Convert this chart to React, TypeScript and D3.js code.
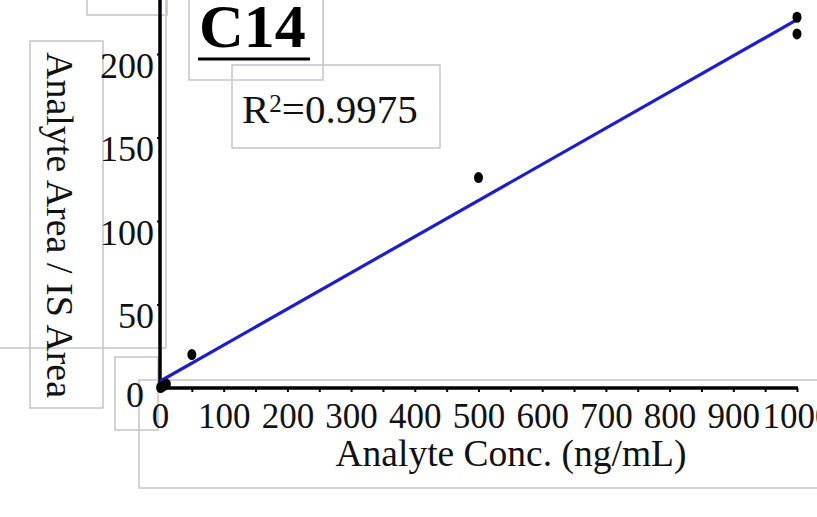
import React, { useEffect, useRef } from "react";
import * as d3 from "d3";

const concs = [1, 5, 10, 50, 500, 1000, 1000];
const ratios = [0.3, 1.2, 2.3, 20, 126, 222, 212];
const xTicks = [0, 100, 200, 300, 400, 500, 600, 700, 800, 900, 1000];
const yTicks = [0, 50, 100, 150, 200];
const title = "C14";
const rSquared = "0.9975";
const xLabel = "Analyte Conc. (ng/mL)";
const yLabel = "Analyte Area / IS Area";

// leftover text boxes from the source document
const boxes = [
  [87, -5, 80, 20],
  [-5, -5, 171, 353],
  [30, 41, 73, 367],
  [115, 357, 43, 73],
  [139, 380, 690, 108],
  [189, -5, 134, 85],
  [232, 65, 208, 83],
  [322, 15, 500, 0],
];

const App = () => {
  const ref = useRef<SVGSVGElement>(null);

  useEffect(() => {
    const svg = d3.select(ref.current);
    svg.selectAll("*").remove();
    const font = "'Liberation Serif', 'Times New Roman', serif";

    const x = d3.scaleLinear().domain([0, 1000]).range([160, 797]);
    const y = d3.scaleLinear().domain([0, 200]).range([388, 54]);

    // gray boxes
    svg
      .append("g")
      .selectAll("rect")
      .data(boxes)
      .enter()
      .append("rect")
      .attr("x", (d) => d[0])
      .attr("y", (d) => d[1])
      .attr("width", (d) => d[2])
      .attr("height", (d) => d[3])
      .attr("fill", "none")
      .attr("stroke", "#c4c4cc")
      .attr("stroke-width", 1.5);

    // x axis
    const xAxis = svg
      .append("g")
      .attr("transform", "translate(0,388)")
      .call(
        d3
          .axisBottom(x)
          .tickValues(d3.range(0, 1001, 50))
          .tickSize(4)
          .tickSizeOuter(0)
          .tickFormat((d) => (xTicks.includes(+d) ? String(d) : ""))
      );
    xAxis.select(".domain").remove();
    xAxis.selectAll(".tick line").attr("stroke", "#000").attr("stroke-width", 2);
    xAxis
      .selectAll(".tick text")
      .attr("font-family", font)
      .attr("font-size", 35)
      .attr("fill", "#111")
      .attr("y", 15);

    // y axis
    const yAxis = svg
      .append("g")
      .attr("transform", "translate(160,0)")
      .call(d3.axisLeft(y).tickValues(yTicks).tickSize(3).tickSizeOuter(0));
    yAxis.select(".domain").remove();
    yAxis.selectAll(".tick line").attr("stroke", "#000").attr("stroke-width", 2);
    yAxis
      .selectAll(".tick text")
      .attr("font-family", font)
      .attr("font-size", 36)
      .attr("fill", "#111")
      .attr("x", -6)
      .attr("dy", "0.64em");
    yAxis
      .selectAll(".tick")
      .filter((d) => d === 0)
      .select("text")
      .attr("x", -16)
      .attr("dy", "0.5em");

    // axis lines
    svg
      .append("line")
      .attr("x1", 160)
      .attr("x2", 160)
      .attr("y1", 0)
      .attr("y2", 390)
      .attr("stroke", "#000")
      .attr("stroke-width", 3.5);
    svg
      .append("line")
      .attr("x1", 158)
      .attr("x2", 798)
      .attr("y1", 388)
      .attr("y2", 388)
      .attr("stroke", "#000")
      .attr("stroke-width", 3.5);

    // least squares fit
    const mx = d3.mean(concs) as number;
    const my = d3.mean(ratios) as number;
    const sxy = d3.sum(concs, (c, i) => (c - mx) * (ratios[i] - my));
    const sxx = d3.sum(concs, (c) => (c - mx) * (c - mx));
    const slope = sxy / sxx;
    const icept = my - slope * mx;
    const fit = [0, 1000].map((c) => [c, icept + slope * c]);

    svg
      .append("path")
      .attr(
        "d",
        d3
          .line<number[]>()
          .x((d) => x(d[0]))
          .y((d) => y(d[1]))(fit)
      )
      .attr("stroke", "#1c1cd0")
      .attr("stroke-width", 3.2)
      .attr("fill", "none");

    svg
      .append("g")
      .selectAll("ellipse")
      .data(concs)
      .enter()
      .append("ellipse")
      .attr("cx", (d) => x(d))
      .attr("cy", (d, i) => y(ratios[i]))
      .attr("rx", 4.5)
      .attr("ry", 5.5)
      .attr("fill", "#000");

    // title
    svg
      .append("text")
      .attr("x", 199)
      .attr("y", 47)
      .attr("font-family", font)
      .attr("font-size", 62)
      .attr("font-weight", "bold")
      .attr("fill", "#000")
      .text(title);
    svg
      .append("line")
      .attr("x1", 198)
      .attr("x2", 310)
      .attr("y1", 59)
      .attr("y2", 59)
      .attr("stroke", "#000")
      .attr("stroke-width", 3);

    const r2 = svg
      .append("text")
      .attr("x", 242)
      .attr("y", 123)
      .attr("font-family", font)
      .attr("font-size", 41)
      .attr("fill", "#111");
    r2.append("tspan").text("R");
    r2.append("tspan").attr("font-size", 25).attr("dy", -11).text("2");
    r2.append("tspan").attr("dy", 11).text("=" + rSquared);

    svg
      .append("text")
      .attr("x", 511)
      .attr("y", 466)
      .attr("text-anchor", "middle")
      .attr("font-family", font)
      .attr("font-size", 37.5)
      .attr("fill", "#111")
      .text(xLabel);

    svg
      .append("text")
      .attr("transform", "translate(47,225) rotate(90)")
      .attr("text-anchor", "middle")
      .attr("font-family", font)
      .attr("font-size", 38)
      .attr("fill", "#111")
      .text(yLabel);
  }, []);

  return (
    <svg
      ref={ref}
      width={817}
      height={517}
      style={{ position: "absolute", left: 0, top: 0, background: "#fff" }}
    />
  );
};

export default App;
